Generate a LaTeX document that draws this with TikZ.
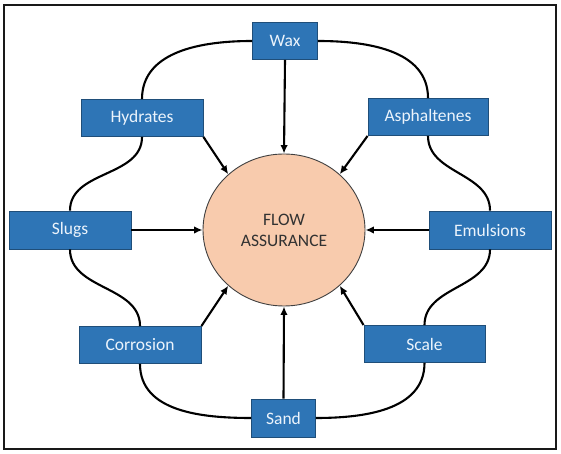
\documentclass[tikz,border=0pt]{standalone}
\usepackage{fontspec}
\setmainfont{Carlito}
\usepackage{xcolor}
\usetikzlibrary{arrows.meta,positioning,calc,shapes.geometric}

\definecolor{boxblue}{RGB}{46,117,182}
\definecolor{boxedge}{RGB}{31,78,121}
\definecolor{boxtext}{RGB}{236,244,252}
\definecolor{peach}{RGB}{248,203,173}
\definecolor{inktext}{RGB}{50,50,50}

\begin{document}
\begin{tikzpicture}[>={Latex[length=8.5pt,width=7.5pt]}, x=1pt, y=1pt,
  factor/.style={draw=boxedge, line width=0.9pt, fill=boxblue, text=boxtext,
    minimum height=37pt, inner sep=0pt, font=\fontsize{17.5}{21}\selectfont},
  link/.style={line width=2.1pt, black},
  feed/.style={link, ->}]
  \useasboundingbox (0,0) rectangle (561,454);
  \draw[black!90, line width=2.6pt] (4,5) rectangle (556,449);
  % centre
  \node[ellipse, draw=black!75, line width=0.9pt, fill=peach, text=inktext,
    minimum width=162pt, minimum height=152pt, align=center,
    font=\fontsize{17.5}{21}\selectfont] (fa) at (284,224) {FLOW\\ASSURANCE};
  % the eight factors
  \node[factor, minimum width=65pt]  (wax)   at (285,413)   {Wax};
  \node[factor, minimum width=122pt] (hyd)   at (142,336)   {Hydrates};
  \node[factor, minimum width=120pt] (asph)  at (428,337)   {Asphaltenes};
  \node[factor, minimum width=122pt, minimum height=38pt] (slugs) at (70,224)  {Slugs};
  \node[factor, minimum width=122pt, minimum height=38pt] (emul)  at (490,224) {Emulsions};
  \node[factor, minimum width=122pt] (corr)  at (140,109)   {Corrosion};
  \node[factor, minimum width=121pt] (scale) at (424.5,110) {Scale};
  \node[factor, minimum width=64pt, minimum height=38pt] (sand) at (283.5,36) {Sand};
  % ring round the factors
  \draw[link] (wax.west) to[out=180, in=90] (hyd.north);
  \draw[link] (wax.east) to[out=0, in=90] (asph.north);
  \draw[link] (hyd.south) to[out=-90, in=90] (slugs.north);
  \draw[link] (asph.south) to[out=-90, in=90] (emul.north);
  \draw[link] (slugs.south) to[out=-90, in=90] (corr.north);
  \draw[link] (emul.south) to[out=-90, in=90] (scale.north);
  \draw[link] (corr.south) to[out=-90, in=180] (sand.west);
  \draw[link] (sand.east) to[out=0, in=-90] (scale.south);
  % arrows into the centre
  \draw[feed] (wax.south) -- (fa.north);
  \draw[feed] (sand.north) -- (fa.south);
  \draw[feed] (slugs.east) -- (fa.west);
  \draw[feed] (emul.west) -- (fa.east);
  \draw[feed] (hyd.south east) -- (fa.135);
  \draw[feed] (asph.south west) -- (fa.45);
  \draw[feed] (corr.north east) -- (fa.225);
  \draw[feed] (scale.north west) -- (fa.-45);
\end{tikzpicture}
\end{document}
